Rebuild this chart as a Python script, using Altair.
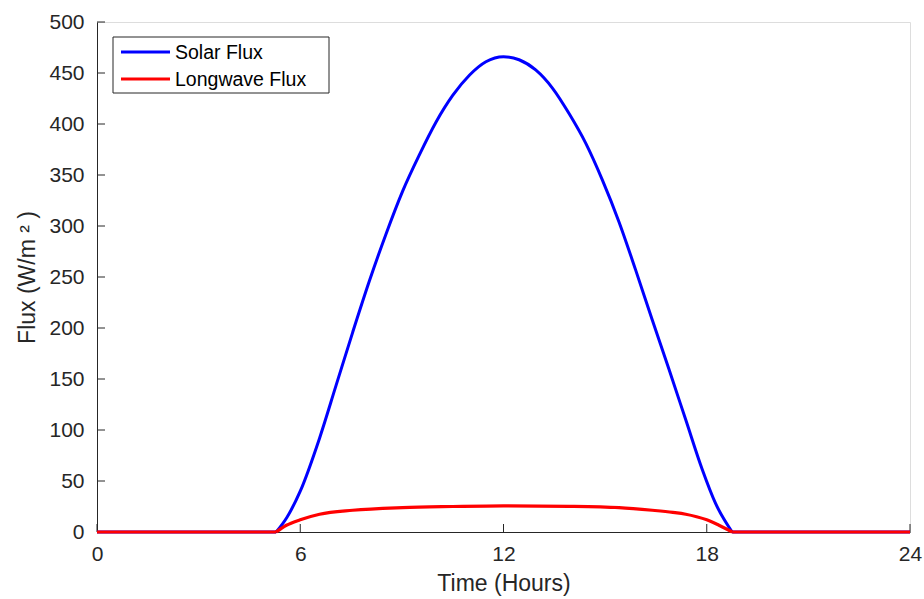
import altair as alt
import pandas as pd

# Solar flux over one day (hours, W/m^2)
solar_hours = [0, 5.29, 5.6, 6.0, 6.57, 7.06, 7.55, 8.04, 8.53, 9.02, 9.52, 10.01,
               10.5, 11.0, 11.48, 12.0, 12.46, 12.95, 13.45, 13.94, 14.43, 14.92,
               15.41, 15.9, 16.39, 16.89, 17.38, 17.87, 18.26, 18.75, 24]
solar_flux = [0, 0, 14, 40, 92, 144, 196, 246, 292, 334, 370, 402,
              428, 448, 461, 466, 463, 453, 435, 410, 381, 345,
              304, 257, 208, 159, 110, 61, 28, 0, 0]

# Longwave flux over one day (hours, W/m^2)
lw_hours = [0, 5.29, 5.59, 6.0, 6.57, 7.55, 9.02, 10.5, 12.0, 13.94, 15.41,
            16.39, 17.0, 17.38, 17.7, 18.0, 18.36, 18.75, 24]
lw_flux = [0, 0, 6.6, 12, 17.4, 21.3, 23.9, 25, 25.7, 25.2, 23.9,
           21.3, 19.2, 17.4, 15.0, 12, 6.6, 0, 0]

x_ticks = [0, 6, 12, 18, 24]
y_ticks = list(range(0, 501, 50))

series_names = ["Solar Flux", "Longwave Flux"]
series_colors = ["#0000ff", "#ff0000"]


def segments(hours, values, name, day_start, day_end):
    """Split a daily series into night / day pieces so the day curve is smoothed alone."""
    rows = []
    for h, v in zip(hours, values):
        if h <= day_start:
            rows.append((h, v, name, "night_am"))
        if day_start <= h <= day_end:
            rows.append((h, v, name, "day"))
        if h >= day_end:
            rows.append((h, v, name, "night_pm"))
    return pd.DataFrame(rows, columns=["hour", "flux", "series", "segment"])


solar_df = segments(solar_hours, solar_flux, "Solar Flux", 5.29, 18.75)
lw_df = segments(lw_hours, lw_flux, "Longwave Flux", 5.29, 18.75)

W, H = 813, 510
FONT = "Liberation Sans"
TXT = "#262626"

x_scale = alt.Scale(domain=[0, 24], nice=False, zero=False)
y_scale = alt.Scale(domain=[0, 500], nice=False)
color_scale = alt.Scale(domain=series_names, range=series_colors)

x_axis = alt.Axis(values=x_ticks, title="Time (Hours)", grid=False, ticks=False,
                  labelPadding=11, titlePadding=8, labelFontSize=21, titleFontSize=23,
                  domainColor=TXT, labelColor=TXT, titleColor=TXT, labelFlush=False)
y_axis = alt.Axis(values=y_ticks, title="Flux (W/m ² )", grid=False, ticks=False,
                  labelPadding=13, titlePadding=9, labelFontSize=21, titleFontSize=23,
                  domainColor=TXT, labelColor=TXT, titleColor=TXT)


def line_layer(df, width):
    return alt.Chart(df).mark_line(strokeWidth=width, interpolate="monotone").encode(
        x=alt.X("hour:Q", scale=x_scale, axis=x_axis),
        y=alt.Y("flux:Q", scale=y_scale, axis=y_axis),
        color=alt.Color("series:N", scale=color_scale, legend=None),
        detail="segment:N",
    )


# Inward-pointing tick marks
xtick_df = pd.DataFrame({"hour": x_ticks})
ytick_df = pd.DataFrame({"flux": y_ticks})

x_tick_marks = alt.Chart(xtick_df).mark_rule(color=TXT, strokeWidth=1).encode(
    x=alt.X("hour:Q", scale=x_scale),
    y=alt.value(H), y2=alt.value(H - 8),
)
y_tick_marks = alt.Chart(ytick_df).mark_rule(color=TXT, strokeWidth=1).encode(
    y=alt.Y("flux:Q", scale=y_scale),
    x=alt.value(0), x2=alt.value(8),
)

# Boxed legend in the upper-left corner
legend_box = alt.Chart(pd.DataFrame({"k": [0]})).mark_rect(
    fill="white", stroke=TXT, strokeWidth=1
).encode(x=alt.value(16), x2=alt.value(232), y=alt.value(15), y2=alt.value(71))

legend_layers = [legend_box]
for i, (name, col) in enumerate(zip(series_names, series_colors)):
    row = pd.DataFrame({"series": [name]})
    yc = 30 + 27 * i
    legend_layers.append(
        alt.Chart(row).mark_rule(color=col, strokeWidth=3).encode(
            x=alt.value(24), x2=alt.value(73), y=alt.value(yc)
        )
    )
    legend_layers.append(
        alt.Chart(row).mark_text(align="left", baseline="middle", fontSize=19.5,
                                 color="black", font=FONT).encode(
            x=alt.value(78), y=alt.value(yc + 1), text="series:N"
        )
    )

chart = alt.layer(
    x_tick_marks, y_tick_marks,
    line_layer(solar_df, 3), line_layer(lw_df, 3.2),
    *legend_layers,
).properties(
    width=W, height=H,
    autosize=alt.AutoSizeParams(type="none"),
    padding={"left": 97, "top": 22, "right": 14, "bottom": 67},
).configure_view(stroke=None).configure(font=FONT).configure_axis(
    labelFont=FONT, titleFont=FONT, titleFontWeight="normal", domainWidth=1
)

chart.save("out.html", embed_options={"renderer": "svg", "actions": False})
